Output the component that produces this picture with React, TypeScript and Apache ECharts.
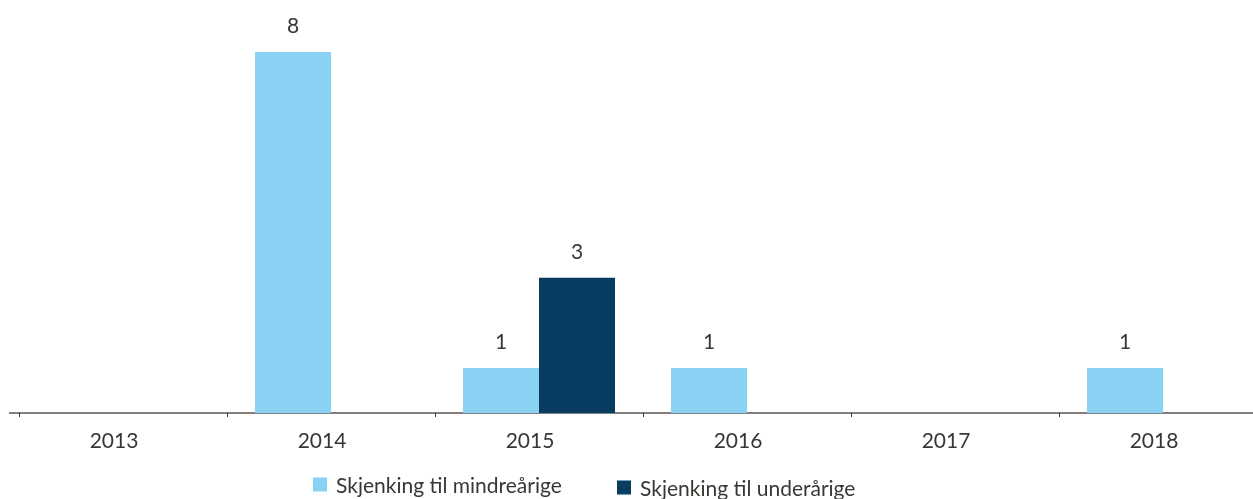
import React, { useEffect, useRef } from "react";
import * as echarts from "echarts";

const years = ["2013", "2014", "2015", "2016", "2017", "2018"];
const mindreaarige = [0, 8, 1, 1, 0, 1];
const underaarige = [0, 0, 3, 0, 0, 0];
const seriesNames = ["Skjenking til mindreårige", "Skjenking til underårige"];

const FONT = "Lato";
const TEXT = "#3a3633";
const FS = 21;

export default function App() {
  const ref = useRef<HTMLDivElement>(null);
  useEffect(() => {
    if (!ref.current) return;
    const chart = echarts.init(ref.current, null, { renderer: "svg" });
    const label = {
      show: true,
      position: "top",
      distance: 17,
      color: TEXT,
      fontFamily: FONT,
      fontSize: FS,
      formatter: (p: any) => (p.value ? String(p.value) : ""),
    };
    const legendText = {
      color: TEXT,
      fontFamily: FONT,
      fontSize: FS,
      padding: [0, 0, 0, 4],
    };
    chart.setOption({
      animation: false,
      textStyle: { fontFamily: FONT },
      grid: {
        left: 19,
        width: 1248,
        top: 52,
        bottom: 86,
        containLabel: false,
        outerBoundsMode: "none",
      },
      legend: [
        {
          data: [seriesNames[0]],
          left: 313,
          top: 474,
          padding: 0,
          itemWidth: 14,
          itemHeight: 14,
          icon: "rect",
          textStyle: legendText,
        },
        {
          data: [seriesNames[1]],
          left: 617,
          top: 477,
          padding: 0,
          itemWidth: 14,
          itemHeight: 14,
          icon: "rect",
          textStyle: legendText,
        },
      ],
      xAxis: {
        type: "category",
        data: years,
        axisLine: { show: true, lineStyle: { color: "#5a5550", width: 1.5 } },
        axisTick: { show: true, length: 4, lineStyle: { color: "#3a3633" } },
        axisLabel: {
          color: TEXT,
          fontFamily: FONT,
          fontSize: FS,
          margin: 16,
          padding: [0, 18, 0, 0],
        },
      },
      yAxis: {
        type: "value",
        min: 0,
        max: 8,
        show: false,
        splitLine: { show: false },
      },
      graphic: [
        {
          type: "line",
          shape: { x1: 9, y1: 413, x2: 19, y2: 413 },
          style: { stroke: "#5a5550", lineWidth: 1.5 },
        },
      ],
      series: [
        {
          name: seriesNames[0],
          type: "bar",
          data: mindreaarige,
          barWidth: 76,
          barGap: "0%",
          itemStyle: { color: "#89d2f3" },
          label,
        },
        {
          name: seriesNames[1],
          type: "bar",
          data: underaarige,
          barWidth: 76,
          itemStyle: { color: "#073b60" },
          label,
        },
      ],
    });
    return () => chart.dispose();
  }, []);
  return (
    <div
      ref={ref}
      style={{ position: "fixed", left: 0, top: 0, width: 1253, height: 499 }}
    />
  );
}
